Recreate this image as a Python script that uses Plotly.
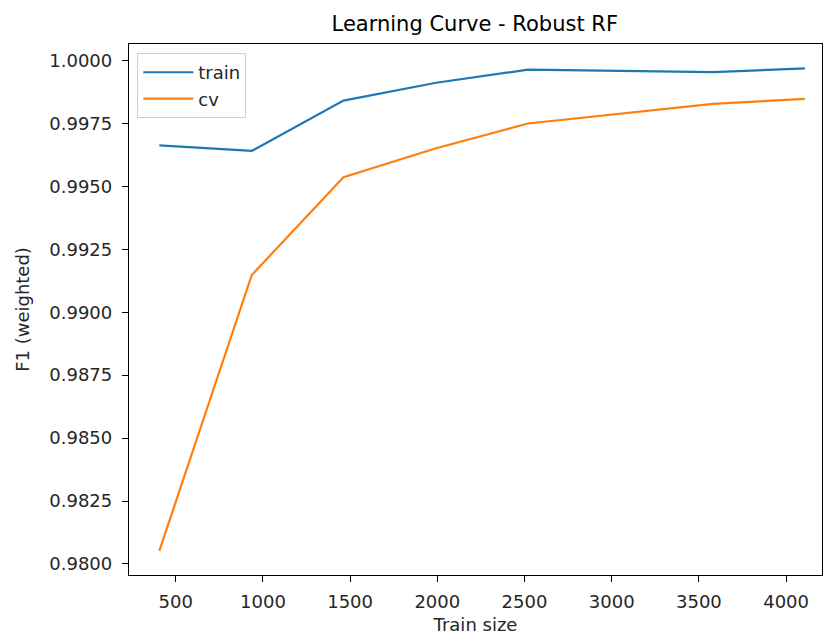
import plotly.graph_objects as go

train_sizes = [406, 936, 1462, 1993, 2520, 3051, 3580, 4108]
train_scores = [0.99663, 0.99641, 0.99841, 0.99912, 0.99964, 0.99959, 0.99954, 0.99969]
cv_scores = [0.98052, 0.99148, 0.99537, 0.99652, 0.99750, 0.99790, 0.99828, 0.99848]

title_text = "Learning Curve - Robust RF"
x_label = "Train size"
y_label = "F1 (weighted)"
x_ticks = [500, 1000, 1500, 2000, 2500, 3000, 3500, 4000]
y_ticks = [0.98, 0.9825, 0.985, 0.9875, 0.99, 0.9925, 0.995, 0.9975, 1.0]

FONT = "DejaVu Sans"
TXT = "#262626"

fig = go.Figure()
fig.add_trace(go.Scatter(x=train_sizes, y=train_scores, mode="lines", name="train",
                         line=dict(color="#1f77b4", width=2.2)))
fig.add_trace(go.Scatter(x=train_sizes, y=cv_scores, mode="lines", name="cv",
                         line=dict(color="#ff7f0e", width=2.2)))

axis_common = dict(
    showgrid=False, zeroline=False, showline=True, linecolor="black", linewidth=1.3,
    mirror=True, ticks="outside", ticklen=6, tickwidth=1.3, tickcolor="black",
    tickfont=dict(family=FONT, size=18, color=TXT),
)

fig.update_layout(
    width=825, height=635,
    margin=dict(l=129, r=3, t=44, b=60),
    paper_bgcolor="white", plot_bgcolor="white",
    font=dict(family=FONT, size=18, color=TXT),
    title=dict(text=title_text, x=0.5755, xanchor="center", y=1 - 24 / 635, yref="container",
               yanchor="middle", font=dict(family=FONT, size=21, color="black")),
    xaxis=dict(range=[232, 4206], tickvals=x_ticks, ticktext=[str(v) for v in x_ticks],
               title=dict(text=x_label, standoff=7, font=dict(family=FONT, size=18, color=TXT)),
               ticklabelstandoff=4, **axis_common),
    yaxis=dict(range=[0.97956, 1.00066], tickvals=y_ticks, tickformat=".4f",
               title=dict(text=y_label, standoff=14, font=dict(family=FONT, size=18, color=TXT)),
               ticklabelstandoff=6, **axis_common),
    legend=dict(x=0.012, y=0.983, xanchor="left", yanchor="top",
                bgcolor="rgba(255,255,255,0.8)", bordercolor="#d0d0d0", borderwidth=1,
                font=dict(family=FONT, size=18, color=TXT), tracegroupgap=0,
                itemwidth=50),
    showlegend=True,
)

fig.write_html("out.html")
